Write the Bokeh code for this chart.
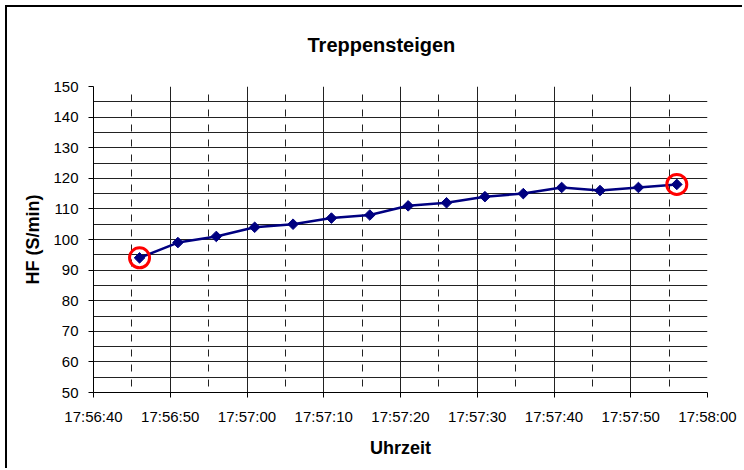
import math
from bokeh.plotting import figure
from bokeh.models import FixedTicker, Range1d
from bokeh.embed import file_html
from bokeh.resources import INLINE

# ---- data ----
times = ["17:56:46", "17:56:51", "17:56:56", "17:57:01", "17:57:06",
         "17:57:11", "17:57:16", "17:57:21", "17:57:26", "17:57:31",
         "17:57:36", "17:57:41", "17:57:46", "17:57:51", "17:57:56"]
hf = [94, 99, 101, 104, 105, 107, 108, 111, 112, 114, 115, 117, 116, 117, 118]
highlight_times = ["17:56:46", "17:57:56"]
highlight_hf = [94, 118]
x_tick_labels = ["17:56:40", "17:56:50", "17:57:00", "17:57:10", "17:57:20",
                 "17:57:30", "17:57:40", "17:57:50", "17:58:00"]
y_ticks = [50, 60, 70, 80, 90, 100, 110, 120, 130, 140, 150]
y_minor = [55, 65, 75, 85, 95, 105, 115, 125, 135, 145]
title_text = "Treppensteigen"
x_label = "Uhrzeit"
y_label = "HF (S/min)"


def secs(t):
    h, m, s = (int(v) for v in t.split(":"))
    return h * 3600 + m * 60 + s


xs = [secs(t) for t in times]
hx = [secs(t) for t in highlight_times]
xt = [secs(t) for t in x_tick_labels]
x_minor = [(a + b) / 2 for a, b in zip(xt[:-1], xt[1:])]

FONT = "Liberation Sans"

p = figure(width=737, height=463, output_backend="svg", toolbar_location=None,
           x_range=Range1d(xt[0], xt[-1]), y_range=Range1d(y_ticks[0], y_ticks[-1]),
           min_border_left=86, min_border_right=37, min_border_top=79, min_border_bottom=78,
           title=title_text + "\n ")
p.styles = {"margin-left": "5px", "margin-top": "5px",
            "border-left": "2px solid black", "border-top": "2px solid black"}

p.title.text_font = FONT
p.title.text_font_size = "20px"
p.title.text_font_style = "bold"
p.title.text_color = "black"
p.title.align = "left"
p.title.vertical_align = "top"
p.title.offset = 214
p.title.standoff = 14

p.outline_line_color = None
p.background_fill_color = "white"
p.border_fill_color = "white"

# axes
p.xaxis.ticker = FixedTicker(ticks=xt, minor_ticks=x_minor)
p.xaxis.major_label_overrides = {v: lab for v, lab in zip(xt, x_tick_labels)}
p.yaxis.ticker = FixedTicker(ticks=y_ticks, minor_ticks=y_minor)

for ax in (p.xaxis[0], p.yaxis[0]):
    ax.axis_line_color = "black"
    ax.axis_line_width = 1
    ax.major_tick_line_color = "black"
    ax.major_tick_out = 5
    ax.major_tick_in = 0
    ax.minor_tick_out = 0
    ax.minor_tick_in = 0
    ax.major_label_text_font = FONT
    ax.major_label_text_font_size = "15px"
    ax.major_label_text_color = "black"
    ax.axis_label_text_font = FONT
    ax.axis_label_text_font_size = "18px"
    ax.axis_label_text_font_style = "bold"
    ax.axis_label_text_color = "black"

p.xaxis.axis_label = x_label
p.yaxis.axis_label = y_label
p.xaxis.major_label_standoff = 10
p.xaxis.axis_label_standoff = 10
p.yaxis.major_label_standoff = 10
p.yaxis.axis_label_standoff = 7

# grids
p.xgrid.grid_line_color = "#222222"
p.xgrid.grid_line_width = 1
p.xgrid.minor_grid_line_color = "#222222"
p.xgrid.minor_grid_line_width = 1
p.xgrid.minor_grid_line_dash = "7 8"
p.xgrid.minor_grid_line_dash_offset = 9
p.ygrid.grid_line_color = "#222222"
p.ygrid.grid_line_width = 1
p.ygrid.minor_grid_line_color = "#222222"
p.ygrid.minor_grid_line_width = 1

# series
p.line(xs, hf, line_color="#000080", line_width=2.5)
p.scatter(xs, hf, marker="square", size=7.5, angle=math.pi / 4,
          fill_color="#000080", line_color="#000080")
p.scatter(hx, highlight_hf, marker="circle", size=20, fill_color=None,
          line_color="#ff0000", line_width=3)

open("out.html", "w").write(file_html(p, INLINE))
